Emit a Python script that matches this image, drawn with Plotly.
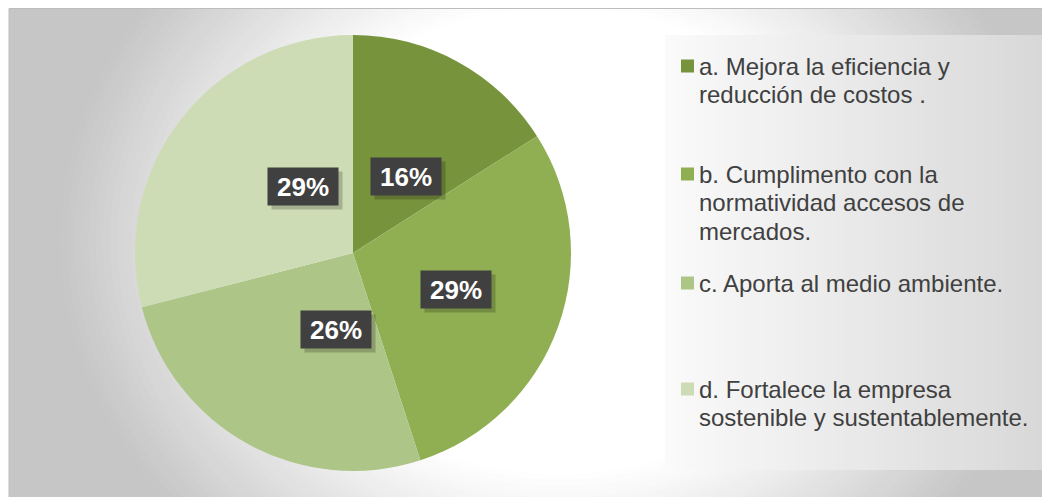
import numpy as np
import plotly.graph_objects as go

# data
categories = [
    "a. Mejora la eficiencia y\nreducción de costos .",
    "b. Cumplimento con la\nnormatividad accesos de\nmercados.",
    "c. Aporta al medio ambiente.",
    "d. Fortalece la empresa\nsostenible y sustentablemente.",
]
percentages = [16, 29, 26, 29]
slice_colors = ["#77933C", "#8FAF52", "#ADC586", "#CDDCB4"]

# the page puts the figure 8px in from the top-left corner
OFF = 8
W, H = 1050 - OFF, 497 - OFF

# pie geometry in page pixels
PIE_CX, PIE_CY, PIE_R = 353, 253, 218


def px(x):
    return (x - OFF) / W


def py(y):
    return 1 - (y - OFF) / H


fig = go.Figure()

fig.add_trace(go.Pie(
    values=percentages,
    labels=[c.split("\n")[0] for c in categories],
    marker=dict(colors=slice_colors, line=dict(width=0)),
    sort=False,
    direction="clockwise",
    rotation=0,
    textinfo="none",
    hoverinfo="label+percent",
    showlegend=False,
    domain=dict(x=[px(PIE_CX - PIE_R), px(PIE_CX + PIE_R)],
                y=[py(PIE_CY + PIE_R), py(PIE_CY - PIE_R)]),
))

shapes = []

# background: soft elliptical gradient, white in the middle, grey at the edges
GCX, GCY, AX, AY = 560, 240, 500, 420
D0, EDGE_GREY = 0.557, 198


def grey_at(d):
    t = min(max((d - D0) / (1 - D0), 0), 1)
    g = int(round(255 - (255 - EDGE_GREY) * t))
    return f"rgb({g},{g},{g})"


shapes.append(dict(type="rect", xref="paper", yref="paper", x0=0, x1=1, y0=0, y1=1,
                   fillcolor=grey_at(1.0), line=dict(width=0), layer="below"))
for s in np.linspace(1.0, D0, 32):
    shapes.append(dict(type="circle", xref="paper", yref="paper",
                       x0=px(GCX - AX * s), x1=px(GCX + AX * s),
                       y0=py(GCY + AY * s), y1=py(GCY - AY * s),
                       fillcolor=grey_at(s - 0.007), line=dict(width=0), layer="below"))

# white page margin and chart border
shapes.append(dict(type="rect", xref="paper", yref="paper", x0=0, x1=px(9), y0=0, y1=1,
                   fillcolor="white", line=dict(width=0), layer="below"))
shapes.append(dict(type="rect", xref="paper", yref="paper", x0=px(9), x1=px(1060), y0=py(510), y1=py(8.5),
                   fillcolor="rgba(0,0,0,0)", line=dict(width=1, color="#BDBDBD"), layer="below"))

# legend panel with horizontal gradient
LX0, LX1, LY0, LY1 = 665, 1045, 35, 470
n_strips = 38
edges = np.linspace(LX0, LX1, n_strips + 1)
for i in range(n_strips):
    t = (i + 0.5) / n_strips
    g = int(round(250 - 34 * t))
    shapes.append(dict(type="rect", xref="paper", yref="paper",
                       x0=px(edges[i]), x1=px(edges[i + 1]) + 0.0005,
                       y0=py(LY1), y1=py(LY0),
                       fillcolor=f"rgb({g},{g},{g})", line=dict(width=0), layer="below"))

annotations = []

# data labels: dark boxes at half radius, mid-angle of each slice
total = sum(percentages)
cum = 0
for v in percentages:
    mid = (cum + v / 2) / total * 2 * np.pi
    cum += v
    lx = PIE_CX + 0.5 * PIE_R * np.sin(mid)
    ly = PIE_CY - 0.5 * PIE_R * np.cos(mid)
    label = f"{round(v / total * 100)}%"
    # shadow
    annotations.append(dict(x=px(lx), y=py(ly), xref="paper", yref="paper", text="",
                            showarrow=False, width=70, height=37, borderpad=0,
                            bgcolor="rgba(0,0,0,0.2)", xshift=4, yshift=-4))
    annotations.append(dict(x=px(lx), y=py(ly), xref="paper", yref="paper", text=f"<b>{label}</b>",
                            showarrow=False, width=70, height=37, borderpad=0,
                            bgcolor="#404040",
                            font=dict(family="Arial, Liberation Sans", size=26, color="white")))

# custom legend
legend_first_line = [66, 174, 283, 389]
LINE_GAP = 28.5
for cat, col, y0 in zip(categories, slice_colors, legend_first_line):
    shapes.append(dict(type="rect", xref="paper", yref="paper",
                       x0=px(681), x1=px(694), y0=py(y0 + 6.5), y1=py(y0 - 6.5),
                       fillcolor=col, line=dict(width=0)))
    for j, line in enumerate(cat.split("\n")):
        annotations.append(dict(x=px(698), y=py(y0 + j * LINE_GAP), xref="paper", yref="paper",
                                text=line, showarrow=False, xanchor="left", yanchor="middle",
                                borderpad=0,
                                font=dict(family="Arial, Liberation Sans", size=24, color="#404040")))

fig.update_layout(
    width=W,
    height=H,
    margin=dict(l=0, r=0, t=0, b=0),
    paper_bgcolor="white",
    shapes=shapes,
    annotations=annotations,
    showlegend=False,
)

fig.write_html("out.html")
